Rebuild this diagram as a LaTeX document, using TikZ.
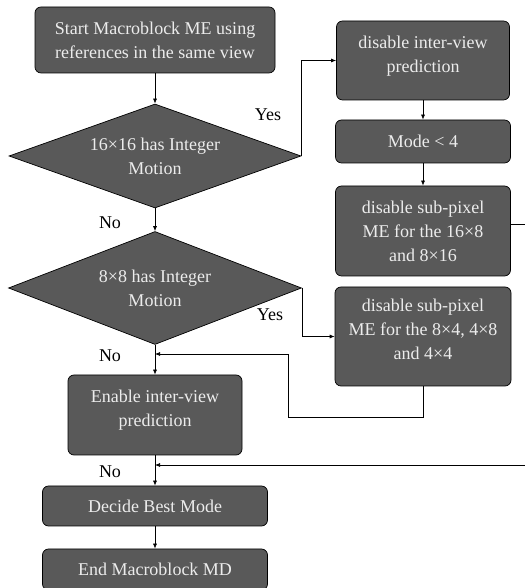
\documentclass[tikz,border=0pt]{standalone}
\usepackage{fontspec}
\setmainfont{Liberation Serif}
\usetikzlibrary{shapes.geometric,arrows.meta}

\definecolor{boxgray}{RGB}{89,89,89}
\definecolor{boxtext}{RGB}{236,236,236}

\tikzset{
  procbox/.style={draw=black, fill=boxgray, text=boxtext, rounded corners=6pt,
    align=center, inner sep=2pt, line width=0.7pt},
  decision/.style={diamond, draw=black, fill=boxgray, text=boxtext,
    align=center, inner sep=0pt, line width=0.7pt},
  flow/.style={-{Latex[length=5pt,width=4pt]}, line width=0.7pt},
}

\begin{document}
\begin{tikzpicture}[x=1pt, y=1pt, font=\fontsize{18}{24}\selectfont]

\newcommand\colx{155}
\newcommand\rcol{423}

\useasboundingbox (0,0) rectangle (524,588); %% frame

%% main column
\node[procbox, minimum width=240pt, minimum height=66pt] (start) at (\colx,548)
  {Start Macroblock ME using\\references in the same view};
\node[decision, minimum width=292pt, minimum height=104pt, aspect=2.8] (d1) at (\colx,432)
  {16×16 has Integer\\Motion};
\node[decision, minimum width=293pt, minimum height=113pt, aspect=2.6] (d2) at (\colx,300)
  {8×8 has Integer\\Motion};
\node[procbox, minimum width=174pt, minimum height=80pt] (enable) at (\colx,173)
  {Enable inter-view\\prediction\\[-10pt]};
\node[procbox, minimum width=225pt, minimum height=40pt] (decide) at (\colx,82)
  {Decide Best Mode};
\node[procbox, minimum width=225pt, minimum height=41pt] (finish) at (\colx,18.5)
  {End Macroblock MD};

%% right column
\node[procbox, minimum width=173pt, minimum height=79pt] (dis1) at (\rcol,527.5)
  {disable inter-view\\prediction\\[-12pt]};
\node[procbox, minimum width=175pt, minimum height=43pt] (mode) at (\rcol,446.5)
  {Mode < 4};
\node[procbox, minimum width=175pt, minimum height=90pt] (sub1) at (\rcol,357)
  {disable sub-pixel\\ME for the 16×8\\and 8×16};
\node[procbox, minimum width=176pt, minimum height=99pt] (sub2) at (\rcol,251.5)
  {disable sub-pixel\\ME for the 8×4, 4×8\\and 4×4\\[-10pt]};

\coordinate (j1) at (\colx,234);
\coordinate (j2) at (\colx,123);

%% labels
\node (yes1) at (268,473) {Yes};
\node (yes2) at (270,273) {Yes};
\node (no1) at (110,365) {No};
\node (no2) at (110,232) {No};
\node (no3) at (110,116) {No};

%% connectors
\draw[flow] (start) -- (d1);
\draw[flow] (d1.east) |- (dis1.west);
\draw[flow] (dis1) -- (mode);
\draw[flow] (mode) -- (sub1);
\draw[flow] ([yshift=7pt]sub1.east) -- (540,364) |- (j2);
\draw[flow] (d1.south) -- (d2.north);
\draw[flow] (d2.east) |- (sub2.west);
\draw[flow] (sub2.south) |- (288,171) |- (j1);
\draw[flow] (d2.south) -- (enable.north);
\draw[flow] (enable) -- (decide);
\draw[flow] (decide) -- (finish);

\end{tikzpicture}
\end{document}
